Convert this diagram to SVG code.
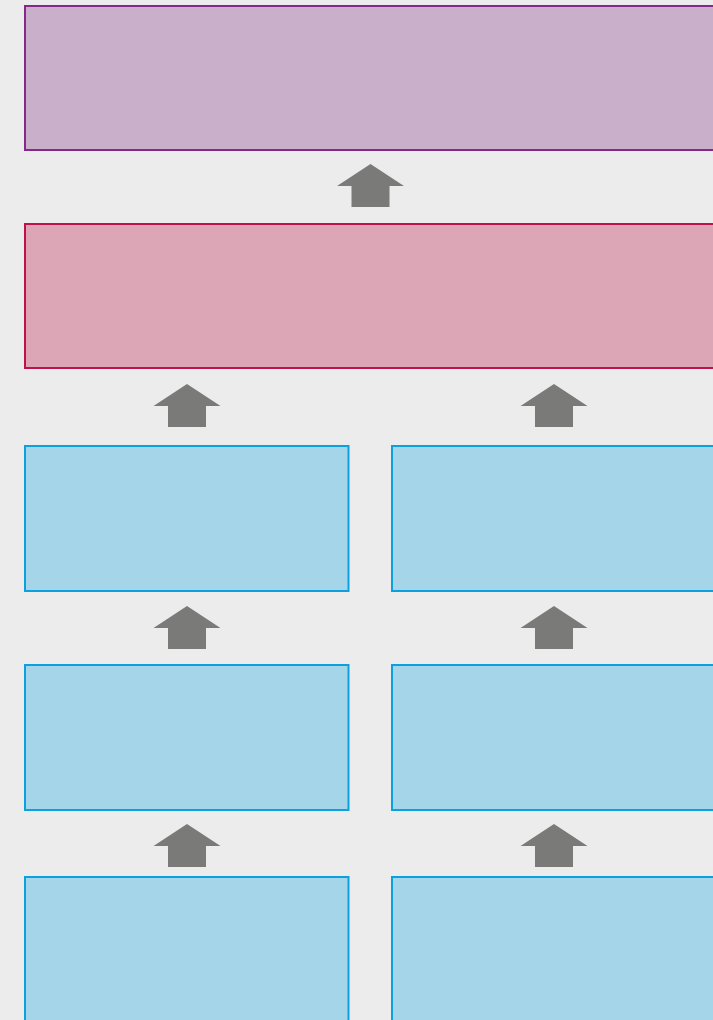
<svg xmlns="http://www.w3.org/2000/svg" width="713" height="1020" viewBox="0 0 713 1020">
<defs>
<style>
.purple{fill:#c9afc9;stroke:#84288a;stroke-width:2}
.pink{fill:#dda6b7;stroke:#c0124a;stroke-width:2}
.blue{fill:#a5d5e8;stroke:#0da0df;stroke-width:2}
.arrow{fill:#7a7a78}
</style>
<path id="up" d="M0,0 L33.5,22 L19,22 L19,43 L-19,43 L-19,22 L-33.5,22 Z"/>
</defs>
<rect width="713" height="1020" fill="#ececec"/>
<g id="n-top"><rect class="purple" x="25" y="6" width="720" height="144"/></g>
<g id="n-mid"><rect class="pink" x="25" y="224" width="720" height="144"/></g>
<g id="n-l1"><rect class="blue" x="25" y="446" width="323.5" height="145"/></g>
<g id="n-r1"><rect class="blue" x="392" y="446" width="340" height="145"/></g>
<g id="n-l2"><rect class="blue" x="25" y="665" width="323.5" height="145"/></g>
<g id="n-r2"><rect class="blue" x="392" y="665" width="340" height="145"/></g>
<g id="n-l3"><rect class="blue" x="25" y="877" width="323.5" height="160"/></g>
<g id="n-r3"><rect class="blue" x="392" y="877" width="340" height="160"/></g>
<g id="connectors" class="arrow">
<use href="#up" x="370.5" y="164"/>
<use href="#up" x="187" y="384"/>
<use href="#up" x="554" y="384"/>
<use href="#up" x="187" y="606"/>
<use href="#up" x="554" y="606"/>
<use href="#up" x="187" y="824"/>
<use href="#up" x="554" y="824"/>
</g>
</svg>
